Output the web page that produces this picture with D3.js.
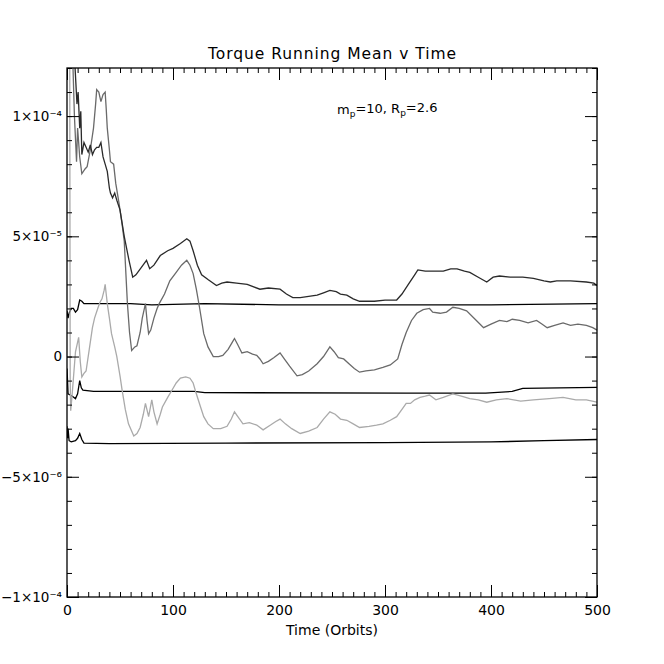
<!DOCTYPE html>
<html>
<head>
<meta charset="utf-8">
<script src="https://cdn.jsdelivr.net/npm/d3@7"></script>
<style>
  html, body { margin: 0; padding: 0; background: #fff; overflow: hidden; }
  svg { display: block; }
  text { font-family: "DejaVu Sans", sans-serif; fill: #000; }
</style>
<script>
// values in units of 1e-5
const seriesA = [[0,30],[3,20],[6,13],[7.5,12.1],[9.4,10.5],[10.5,11],[12,9.5],[13,10.2],[14,8.4],[16,8.9],[18,8.7],[20,8.5],[22,8.8],[24,8.4],[26,8.6],[28,8.7],[30,8.7],[32,8.9],[34,8.3],[36,8.0],[38,7.7],[40,7.0],[41,6.8],[43,6.6],[45,6.8],[47,6.5],[50,6.1],[54,5.0],[58.5,4.0],[62,3.3],[65,3.4],[70,3.7],[75,4.0],[78,3.65],[82,3.8],[88,4.2],[95,4.4],[100,4.5],[107,4.7],[113,4.9],[116,4.8],[119,4.4],[123,3.8],[127,3.4],[133,3.2],[141,2.95],[146,3.05],[151,3.1],[160,3.05],[170,3.0],[182,2.8],[190,2.85],[201,2.8],[207,2.6],[213,2.45],[220,2.45],[228,2.5],[236,2.55],[242,2.65],[248,2.75],[254,2.7],[258,2.6],[264,2.55],[270,2.4],[276,2.3],[290,2.3],[300,2.35],[311,2.35],[316,2.6],[322,3.0],[328,3.4],[331,3.6],[338,3.55],[345,3.55],[355,3.55],[362,3.65],[368,3.65],[375,3.55],[380,3.5],[388,3.3],[396,3.1],[402,3.3],[408,3.35],[418,3.3],[430,3.3],[440,3.25],[450,3.15],[456,3.1],[462,3.15],[475,3.15],[490,3.1],[497,3.05],[500,2.95]];
const seriesB = [[0,40],[3,20],[5,13],[7,10],[9,8.1],[10,9.5],[12,8.3],[14,7.6],[17,7.8],[19,7.9],[22,8.6],[25,9.5],[27,10.5],[28,11.1],[30,11.0],[32,10.6],[34,10.9],[36,11.0],[37,10.3],[38,9.5],[40,8.6],[41,8.1],[44,8.0],[46,7.2],[49,6.4],[52,5.5],[54,4.8],[57,2.2],[59,1.0],[61,0.25],[64,0.4],[66,0.45],[69,1.0],[71,1.6],[74,2.2],[75.5,1.5],[77,0.95],[79,1.1],[82,1.6],[85,2.0],[87,2.2],[92,2.6],[97,3.15],[103,3.5],[108,3.8],[113,4.0],[116,3.8],[119,3.45],[122,2.8],[125,2.05],[129,0.95],[133,0.4],[138,0.0],[143,0.0],[147,0.05],[152,0.3],[156,0.6],[158,0.75],[161,0.5],[165,0.15],[170,0.2],[175,0.1],[179,0.05],[182,-0.1],[185,-0.3],[190,-0.2],[195,-0.05],[201,0.15],[205,-0.1],[210,-0.4],[217,-0.8],[222,-0.75],[228,-0.6],[236,-0.3],[242,0.0],[248,0.4],[252,0.2],[256,-0.05],[261,-0.1],[266,-0.3],[271,-0.5],[276,-0.65],[282,-0.6],[290,-0.55],[298,-0.45],[305,-0.35],[312,-0.1],[316,0.5],[320,1.0],[325,1.5],[330,1.8],[336,1.95],[342,2.0],[345,1.85],[352,1.8],[358,1.85],[364,2.05],[370,2.0],[377,1.9],[385,1.55],[393,1.2],[400,1.35],[408,1.5],[415,1.45],[420,1.55],[427,1.5],[435,1.4],[443,1.5],[448,1.35],[453,1.2],[460,1.3],[468,1.4],[475,1.3],[482,1.35],[490,1.3],[496,1.2],[500,1.1]];
const seriesC = [[0,40],[2.5,15],[3,-1.0],[3.5,-2.25],[5,-1.5],[8,0.2],[11,0.8],[12.5,-0.2],[14,-0.85],[16,-0.7],[18,-0.6],[21,0.3],[24,1.2],[26,1.6],[29,2.0],[31,2.25],[33,2.4],[35,2.75],[36,3.0],[37,2.6],[38,2.2],[40,1.6],[42,0.95],[45,0.4],[47,0.0],[50,-0.8],[52,-1.4],[55,-2.2],[58,-2.8],[63,-3.3],[66,-3.2],[69,-2.95],[72,-2.4],[74,-1.95],[77,-2.5],[80,-1.8],[82,-2.3],[85,-2.8],[88,-2.4],[90,-2.1],[95,-1.7],[99,-1.4],[103,-1.1],[107,-0.9],[112,-0.85],[116,-0.9],[119,-1.1],[122,-1.55],[126,-2.1],[129,-2.5],[133,-2.8],[138,-3.0],[145,-3.0],[151,-2.9],[155,-2.6],[158,-2.3],[162,-2.55],[166,-2.8],[172,-2.75],[179,-2.85],[185,-3.05],[192,-2.85],[197,-2.7],[201,-2.6],[206,-2.8],[212,-3.0],[220,-3.2],[228,-3.1],[236,-2.95],[242,-2.6],[248,-2.3],[253,-2.4],[258,-2.6],[264,-2.65],[270,-2.8],[276,-2.95],[285,-2.9],[292,-2.85],[298,-2.8],[305,-2.65],[311,-2.5],[316,-2.2],[320,-1.95],[324,-1.95],[328,-1.8],[333,-1.7],[338,-1.65],[342,-1.6],[348,-1.8],[355,-1.7],[364,-1.55],[372,-1.65],[380,-1.75],[388,-1.8],[396,-1.9],[405,-1.8],[415,-1.75],[428,-1.85],[440,-1.8],[455,-1.75],[468,-1.7],[480,-1.8],[490,-1.8],[500,-1.9]];
const seriesD = [[0,1.9],[1,1.6],[2,1.8],[4,2.0],[6,2.0],[8,1.85],[10,1.95],[12,2.35],[14,2.3],[16,2.2],[30,2.2],[60,2.2],[80,2.15],[130,2.2],[200,2.15],[320,2.15],[400,2.15],[500,2.2]];
const seriesE = [[0,-0.5],[0.5,-1.0],[1,-1.55],[3,-1.6],[5,-1.65],[8,-1.75],[10,-1.55],[12,-1.0],[13.5,-1.3],[15,-1.4],[25,-1.45],[60,-1.45],[120,-1.45],[130,-1.5],[320,-1.52],[395,-1.52],[420,-1.45],[430,-1.32],[500,-1.28]];
const seriesF = [[0,-2.9],[0.5,-3.4],[1,-3.0],[2,-3.5],[4,-3.55],[8,-3.5],[10,-3.4],[12,-3.2],[14,-3.45],[16,-3.6],[40,-3.62],[150,-3.6],[300,-3.58],[400,-3.55],[450,-3.5],[500,-3.45]];

const seriesColors = ['#000', '#000', '#000', '#aaaaaa', '#6a6a6a', '#2a2a2a'];

const xMajor = [0, 100, 200, 300, 400, 500];
const xMinor = d3.range(0, 501, 10);
const yMajor = [-10, -5, 0, 5, 10];
const yMinor = d3.range(-10, 12.01, 1);
const yTickLabels = ['\u22121\u00d710\u207b\u2074', '\u22125\u00d710\u207b\u2076', '0', '5\u00d710\u207b\u2075', '1\u00d710\u207b\u2074'];

const render = () => {
  const width = 664, height = 664;
  const svg = d3.select('body').append('svg').attr('width', width).attr('height', height);
  const margin = {left: 67, top: 68, right: 67, bottom: 67};
  const innerWidth = width - margin.left - margin.right;
  const innerHeight = height - margin.top - margin.bottom;

  const x = d3.scaleLinear().domain([0, 500]).range([0, innerWidth]);
  const y = d3.scaleLinear().domain([-10, 12]).range([innerHeight, 0]);

  const g = svg.append('g').attr('transform', `translate(${margin.left},${margin.top})`);

  g.append('clipPath').attr('id', 'clip')
    .append('rect').attr('width', innerWidth).attr('height', innerHeight);

  const seriesList = [seriesD, seriesE, seriesF, seriesC, seriesB, seriesA];
  const line = d3.line().x(d => x(d[0])).y(d => y(d[1]));
  g.append('g').attr('clip-path', 'url(#clip)')
    .selectAll('path').data(seriesList).enter().append('path')
    .attr('d', d => line(d))
    .attr('fill', 'none')
    .attr('stroke', (d, i) => seriesColors[i])
    .attr('stroke-width', 1.3);

  // tick-only axes: drop domain path and labels
  const ticksOnly = sel => {
    sel.select('.domain').remove();
    sel.selectAll('text').remove();
    sel.selectAll('line').attr('stroke', '#000');
  };

  // minor ticks
  g.append('g').call(d3.axisLeft(y).tickValues(yMinor).tickSize(-5)).call(ticksOnly);
  g.append('g').attr('transform', `translate(${innerWidth},0)`)
    .call(d3.axisRight(y).tickValues(yMinor).tickSize(-5)).call(ticksOnly);
  g.append('g').attr('transform', `translate(0,${innerHeight})`)
    .call(d3.axisBottom(x).tickValues(xMinor).tickSize(-5)).call(ticksOnly);
  g.append('g').call(d3.axisTop(x).tickValues(xMinor).tickSize(-5)).call(ticksOnly);

  // major ticks + labels
  const yAxis = g.append('g')
    .call(d3.axisLeft(y).tickValues(yMajor).tickSize(-12).tickPadding(5)
      .tickFormat((d, i) => yTickLabels[i]));
  yAxis.select('.domain').remove();
  yAxis.selectAll('line').attr('stroke', '#000');
  yAxis.selectAll('text').attr('font-size', 13.5).attr('font-family', null);

  g.append('g').attr('transform', `translate(${innerWidth},0)`)
    .call(d3.axisRight(y).tickValues(yMajor).tickSize(-12)).call(ticksOnly);
  const xAxis = g.append('g').attr('transform', `translate(0,${innerHeight})`)
    .call(d3.axisBottom(x).tickValues(xMajor).tickSize(-12).tickPadding(8).tickFormat(d3.format('d')));
  xAxis.select('.domain').remove();
  xAxis.selectAll('line').attr('stroke', '#000');
  xAxis.selectAll('text').attr('font-size', 14).attr('font-family', null);
  g.append('g').call(d3.axisTop(x).tickValues(xMajor).tickSize(-12)).call(ticksOnly);

  g.append('rect').attr('width', innerWidth).attr('height', innerHeight)
    .attr('fill', 'none').attr('stroke', '#000').attr('stroke-width', 1.3);

  svg.append('text').attr('x', 332).attr('y', 59).attr('text-anchor', 'middle')
    .attr('font-size', 15.5).attr('textLength', 248).attr('lengthAdjust', 'spacing')
    .text('Torque Running Mean v Time');
  svg.append('text').attr('x', 332).attr('y', 635).attr('text-anchor', 'middle')
    .attr('font-size', 14).text('Time (Orbits)');

  const ann = svg.append('text').attr('x', 337).attr('y', 114).attr('font-size', 13);
  ann.append('tspan').text('m');
  ann.append('tspan').attr('font-size', 9).attr('dy', '0.3em').text('p');
  ann.append('tspan').attr('dy', '-0.3em').text('=10, R');
  ann.append('tspan').attr('font-size', 9).attr('dy', '0.3em').text('p');
  ann.append('tspan').attr('dy', '-0.3em').text('=2.6');
};

document.addEventListener('DOMContentLoaded', render);
</script>
</head>
<body></body>
</html>
